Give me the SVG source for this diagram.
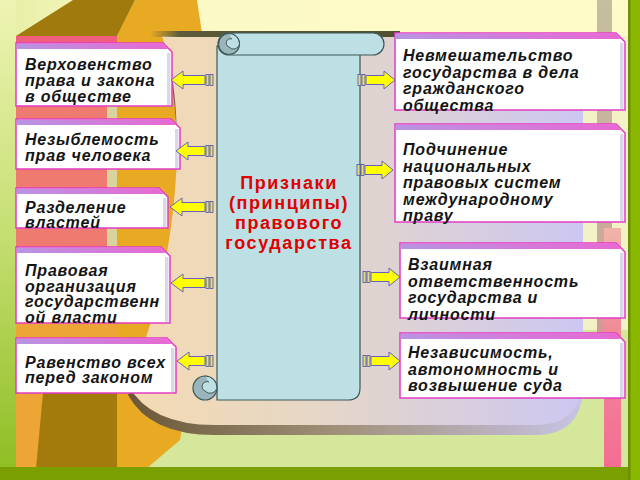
<svg xmlns="http://www.w3.org/2000/svg" width="640" height="480" viewBox="0 0 640 480">
<defs>
<linearGradient id="gTop" x1="0" y1="0" x2="1" y2="0">
<stop offset="0" stop-color="#e4eea4"/><stop offset="0.2" stop-color="#fbf9c6"/><stop offset="1" stop-color="#fffbc8"/>
</linearGradient>
<linearGradient id="gLeft" x1="0" y1="0" x2="0" y2="1">
<stop offset="0" stop-color="#eef4b4"/><stop offset="0.5" stop-color="#c4de70"/><stop offset="1" stop-color="#8cbc20"/>
</linearGradient>
<linearGradient id="gPanel" x1="130" y1="0" x2="585" y2="0" gradientUnits="userSpaceOnUse">
<stop offset="0" stop-color="#f4dab2"/><stop offset="0.4" stop-color="#e6d7c6"/><stop offset="1" stop-color="#ccc7f2"/>
</linearGradient>
<linearGradient id="gShadow" x1="130" y1="0" x2="585" y2="0" gradientUnits="userSpaceOnUse">
<stop offset="0" stop-color="#6a5838"/><stop offset="0.45" stop-color="#a09078"/><stop offset="1" stop-color="#c8c4e6"/>
</linearGradient>
<linearGradient id="gTopStrip" x1="150" y1="0" x2="400" y2="0" gradientUnits="userSpaceOnUse">
<stop offset="0" stop-color="#5c5a38" stop-opacity="0"/><stop offset="0.12" stop-color="#5c5a38"/><stop offset="1" stop-color="#4e5030"/>
</linearGradient>
<linearGradient id="gTan" x1="0" y1="0" x2="0" y2="1">
<stop offset="0" stop-color="#c6be9e"/><stop offset="0.6" stop-color="#c8b09c"/><stop offset="1" stop-color="#d49898"/>
</linearGradient>
<linearGradient id="gPink" x1="0" y1="0" x2="0" y2="1">
<stop offset="0" stop-color="#f0b4a8"/><stop offset="0.4" stop-color="#f08c98"/><stop offset="1" stop-color="#f46a92"/>
</linearGradient>
<linearGradient id="gStrip" x1="0" y1="0" x2="1" y2="0">
<stop offset="0" stop-color="#b894e2"/><stop offset="1" stop-color="#e868d4"/>
</linearGradient>
</defs>
<style>
.box{fill:#ffffff;stroke:#e23cc4;stroke-width:1.5}
.strip{fill:url(#gStrip)}
.shade{fill:#dcd6ea}
.lbl{font-family:"Liberation Sans",Arial,sans-serif;font-size:16px;font-weight:bold;font-style:italic;fill:#141414;letter-spacing:0.8px}
.title{font-family:"Liberation Sans",Arial,sans-serif;font-size:18px;font-weight:bold;fill:#e00000;letter-spacing:1.6px;text-anchor:middle}
.arr{fill:#ffff00;stroke:#6464c0;stroke-width:1}
.bar{fill:#dede7a;stroke:#5050b0;stroke-width:0.8}
.scr{fill:#bce0e3;stroke:#3c5858;stroke-width:1.2}
.curl{fill:#9ab6ba;stroke:#3c5858;stroke-width:1.2}
</style>

<g id="background">
<rect x="0" y="0" width="640" height="480" fill="url(#gTop)"/>
<rect x="130" y="330" width="498" height="140" fill="#d4e79a"/>
<rect x="583" y="36" width="45" height="434" fill="#f2f2c6"/>
<rect x="583" y="330" width="45" height="140" fill="#d4e79a"/>
<rect x="597" y="0" width="15" height="335" fill="url(#gTan)"/>
<rect x="604" y="228" width="17" height="252" fill="url(#gPink)"/>
<polygon points="135,0 197,0 212,100 205,300 180,440 133,480 117,480 117,36" fill="#e8aa22"/>
<polygon points="16,36 73,0 135,0 117,36" fill="#a07a0c"/>
<rect x="16" y="36" width="91" height="212" fill="#ef7a70"/>
<rect x="107" y="43" width="10" height="205" fill="#d8d49c"/>
<rect x="16" y="36" width="101" height="7" fill="#f0607c"/>
<rect x="16" y="248" width="101" height="232" fill="#eda535"/>
<polygon points="48,338 117,338 117,480 35,480" fill="#a37a0c"/>
<rect x="0" y="0" width="16" height="480" fill="url(#gLeft)"/>
<rect x="0" y="467" width="640" height="13" fill="#79a000"/>
<rect x="628" y="0" width="12" height="480" fill="#8ab800"/>
<rect x="628" y="0" width="2.5" height="480" fill="#6e8e08"/>
</g>

<g id="panel">
<path d="M162,46 L583,46 L583,385 Q583,435 535,435 L215,435 Q150,435 128,395 C175,290 192,130 162,46 Z" fill="url(#gShadow)"/>
<path d="M162,36 L583,36 L583,375 Q583,425 535,425 L215,425 Q150,425 128,385 C175,280 192,120 162,36 Z" fill="url(#gPanel)"/>
<rect x="150" y="31" width="250" height="6" fill="url(#gTopStrip)"/>
</g>

<g id="node-scroll">
<path class="scr" d="M217,46 L217,400 L348,400 Q360,400 360,388 L360,50 Z"/>
<path class="scr" d="M229,33 L373,33 A11,11 0 0 1 373,55 L229,55 A11,11 0 0 1 229,33 Z"/>
<circle class="curl" cx="229" cy="44" r="10.5"/>
<path d="M229,33.5 A10.5,10.5 0 0 1 239.5,44 A6,6 0 0 1 229,47 A4,4 0 0 1 232,39" fill="#bce0e3" stroke="#3c5858" stroke-width="1"/>
<circle class="curl" cx="205" cy="388" r="12"/>
<path d="M205,376 A12,12 0 0 1 217,388 A7,7 0 0 1 205,391 A4.5,4.5 0 0 1 209,382" fill="#bce0e3" stroke="#3c5858" stroke-width="1"/>
<text class="title" x="289" y="189">Признаки</text>
<text class="title" x="289" y="209">(принципы)</text>
<text class="title" x="289" y="229">правового</text>
<text class="title" x="289" y="249">государства</text>
</g>

<g id="node-l1">
<path class="box" d="M16,43 H163 L172,52 V106 H16 Z"/>
<path class="strip" d="M16.75,43.75 H162.7 L168,49 H16.75 Z"/>
<rect class="shade" x="167" y="53" width="3.5" height="52"/>
<text class="lbl" x="25" y="70">Верховенство</text>
<text class="lbl" x="25" y="86">права и закона</text>
<text class="lbl" x="25" y="101.5">в обществе</text>
</g>
<g id="node-l2">
<path class="box" d="M16,119 H171 L180,128 V169 H16 Z"/>
<path class="strip" d="M16.75,119.75 H170.7 L176,125 H16.75 Z"/>
<rect class="shade" x="175" y="129" width="3.5" height="39"/>
<text class="lbl" x="25" y="145">Незыблемость</text>
<text class="lbl" x="25" y="160.5">прав человека</text>
</g>
<g id="node-l3">
<path class="box" d="M16,188 H159 L168,197 V228 H16 Z"/>
<path class="strip" d="M16.75,188.75 H158.7 L164,194 H16.75 Z"/>
<rect class="shade" x="163" y="198" width="3.5" height="29"/>
<text class="lbl" x="25" y="212.5">Разделение</text>
<text class="lbl" x="25" y="228">властей</text>
</g>
<g id="node-l4">
<path class="box" d="M16,247 H161 L170,256 V323 H16 Z"/>
<path class="strip" d="M16.75,247.75 H160.7 L166,253 H16.75 Z"/>
<rect class="shade" x="165" y="257" width="3.5" height="65"/>
<text class="lbl" x="25" y="276">Правовая</text>
<text class="lbl" x="25" y="291.5">организация</text>
<text class="lbl" x="25" y="307">государственн</text>
<text class="lbl" x="25" y="322.5">ой власти</text>
</g>
<g id="node-l5">
<path class="box" d="M16,338 H167 L176,347 V393 H16 Z"/>
<path class="strip" d="M16.75,338.75 H166.7 L172,344 H16.75 Z"/>
<rect class="shade" x="171" y="348" width="3.5" height="44"/>
<text class="lbl" x="25" y="367.5">Равенство всех</text>
<text class="lbl" x="25" y="383">перед законом</text>
</g>

<g id="node-r1">
<path class="box" d="M395,33 H616 L625,42 V110 H395 Z"/>
<path class="strip" d="M395.75,33.75 H615.7 L621,39 H395.75 Z"/>
<rect class="shade" x="620" y="43" width="3.5" height="66"/>
<text class="lbl" x="403" y="61">Невмешательство</text>
<text class="lbl" x="403" y="77.5">государства в дела</text>
<text class="lbl" x="403" y="94">гражданского</text>
<text class="lbl" x="403" y="110.5">общества</text>
</g>
<g id="node-r2">
<path class="box" d="M395,124 H616 L625,133 V222 H395 Z"/>
<path class="strip" d="M395.75,124.75 H615.7 L621,130 H395.75 Z"/>
<rect class="shade" x="620" y="134" width="3.5" height="87"/>
<text class="lbl" x="403" y="155">Подчинение</text>
<text class="lbl" x="403" y="171.5">национальных</text>
<text class="lbl" x="403" y="188">правовых систем</text>
<text class="lbl" x="403" y="204.5">международному</text>
<text class="lbl" x="403" y="221">праву</text>
</g>
<g id="node-r3">
<path class="box" d="M400,243 H616 L625,252 V318 H400 Z"/>
<path class="strip" d="M400.75,243.75 H615.7 L621,249 H400.75 Z"/>
<rect class="shade" x="620" y="253" width="3.5" height="64"/>
<text class="lbl" x="408" y="270">Взаимная</text>
<text class="lbl" x="408" y="286.5">ответственность</text>
<text class="lbl" x="408" y="303">государства и</text>
<text class="lbl" x="408" y="319.5">личности</text>
</g>
<g id="node-r4">
<path class="box" d="M400,333 H616 L625,342 V398 H400 Z"/>
<path class="strip" d="M400.75,333.75 H615.7 L621,339 H400.75 Z"/>
<rect class="shade" x="620" y="343" width="3.5" height="54"/>
<text class="lbl" x="408" y="358">Независимость,</text>
<text class="lbl" x="408" y="374.5">автономность и</text>
<text class="lbl" x="408" y="391">возвышение суда</text>
</g>

<g id="connectors">
<polygon class="arr" points="171,80 183,71 183,75.5 205,75.5 205,84.5 183,84.5 183,89"/>
<rect class="bar" x="206" y="74.5" width="3" height="11"/><rect class="bar" x="210" y="74.5" width="3" height="11"/>
<polygon class="arr" points="176,151 188,142 188,146.5 205,146.5 205,155.5 188,155.5 188,160"/>
<rect class="bar" x="206" y="145.5" width="3" height="11"/><rect class="bar" x="210" y="145.5" width="3" height="11"/>
<polygon class="arr" points="170,207 182,198 182,202.5 205,202.5 205,211.5 182,211.5 182,216"/>
<rect class="bar" x="206" y="201.5" width="3" height="11"/><rect class="bar" x="210" y="201.5" width="3" height="11"/>
<polygon class="arr" points="171,283 183,274 183,278.5 205,278.5 205,287.5 183,287.5 183,292"/>
<rect class="bar" x="206" y="277.5" width="3" height="11"/><rect class="bar" x="210" y="277.5" width="3" height="11"/>
<polygon class="arr" points="177,361 189,352 189,356.5 205,356.5 205,365.5 189,365.5 189,370"/>
<rect class="bar" x="206" y="355.5" width="3" height="11"/><rect class="bar" x="210" y="355.5" width="3" height="11"/>

<rect class="bar" x="358" y="74.5" width="3" height="11"/><rect class="bar" x="362" y="74.5" width="3" height="11"/>
<polygon class="arr" points="366,75.5 384,75.5 384,71 395,80 384,89 384,84.5 366,84.5"/>
<rect class="bar" x="357" y="164.5" width="3" height="11"/><rect class="bar" x="361" y="164.5" width="3" height="11"/>
<polygon class="arr" points="365,165.5 382,165.5 382,161 393,170 382,179 382,174.5 365,174.5"/>
<rect class="bar" x="363" y="271.5" width="3" height="11"/><rect class="bar" x="367" y="271.5" width="3" height="11"/>
<polygon class="arr" points="371,272.5 389,272.5 389,268 400,277 389,286 389,281.5 371,281.5"/>
<rect class="bar" x="363" y="355.5" width="3" height="11"/><rect class="bar" x="367" y="355.5" width="3" height="11"/>
<polygon class="arr" points="371,356.5 389,356.5 389,352 400,361 389,370 389,365.5 371,365.5"/>
</g>
</svg>
